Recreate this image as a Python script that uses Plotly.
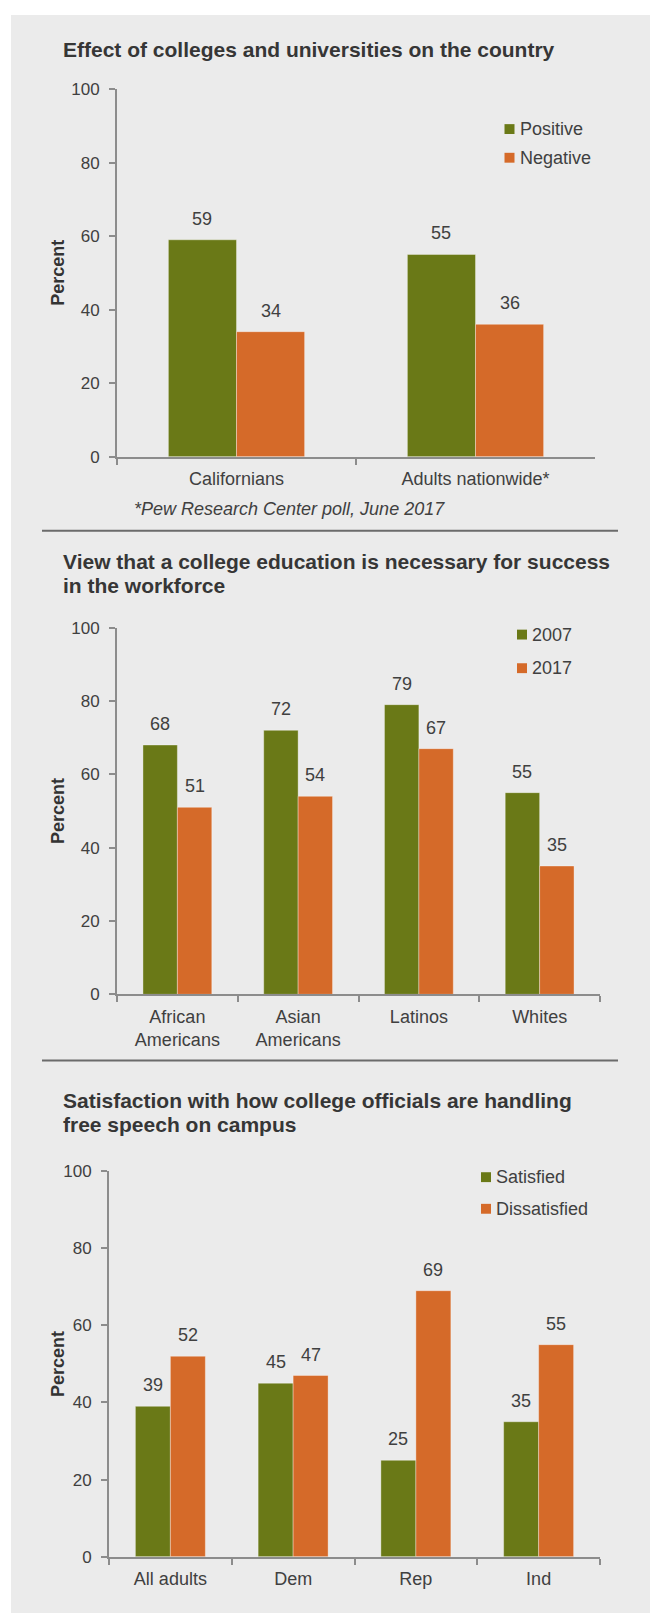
import plotly.graph_objects as go

W, H = 650, 1623

# ---------------- data ----------------
c1_categories = ["Californians", "Adults nationwide*"]
c1_positive = [59, 55]
c1_negative = [34, 36]

c2_categories = ["African<br>Americans", "Asian<br>Americans", "Latinos", "Whites"]
c2_2007 = [68, 72, 79, 55]
c2_2017 = [51, 54, 67, 35]

c3_categories = ["All adults", "Dem", "Rep", "Ind"]
c3_satisfied = [39, 45, 25, 35]
c3_dissatisfied = [52, 47, 69, 55]

y_ticks = [0, 20, 40, 60, 80, 100]

titles = [
    ["Effect of colleges and universities on the country"],
    ["View that a college education is necessary for success", "in the workforce"],
    ["Satisfaction with how college officials are handling", "free speech on campus"],
]
footnote = "*Pew Research Center poll, June 2017"

# ---------------- style ----------------
GREEN = "#6A7917"
ORANGE = "#D56A29"
TEXT = "#404040"
TITLE = "#363636"
AXIS = "#8C8C8C"
FONT = "Liberation Sans, Arial, sans-serif"
BARGAP = 0.43


def px(x):
    return x / W


def py(y):
    return 1 - y / H


panels = [
    dict(cats=c1_categories, series=[("Positive", c1_positive, GREEN), ("Negative", c1_negative, ORANGE)],
         xd=(117, 595), yd=(81, 453), leg=(504.5, [121.5, 150.5]), title_y=[41]),
    dict(cats=c2_categories, series=[("2007", c2_2007, GREEN), ("2017", c2_2017, ORANGE)],
         xd=(117, 600), yd=(626, 997), leg=(517, [633, 667]), title_y=[559, 583]),
    dict(cats=c3_categories, series=[("Satisfied", c3_satisfied, GREEN), ("Dissatisfied", c3_dissatisfied, ORANGE)],
         xd=(109, 600), yd=(1176, 1566), leg=(481, [1182, 1214]), title_y=[1104, 1129]),
]

fig = go.Figure()
annotations = []
shapes = [
    dict(type="rect", xref="paper", yref="paper", x0=px(11), x1=1, y0=0, y1=py(6),
         fillcolor="#EBEBEB", line=dict(width=0), layer="below"),
    dict(type="line", xref="paper", yref="paper", x0=px(42), x1=px(618), y0=py(528), y1=py(528),
         line=dict(color="#6B6B6B", width=2)),
    dict(type="line", xref="paper", yref="paper", x0=px(42), x1=px(618), y0=py(1064), y1=py(1064),
         line=dict(color="#6B6B6B", width=2)),
]
layout = dict()
SQ = 10  # legend swatch size (px)

for i, p in enumerate(panels, start=1):
    sfx = "" if i == 1 else str(i)
    xname, yname = "x" + sfx, "y" + sfx
    for name, vals, col in p["series"]:
        fig.add_trace(go.Bar(
            x=p["cats"], y=vals, name=name, xaxis=xname, yaxis=yname,
            marker=dict(color=col, line=dict(color="rgba(255,255,255,0.35)", width=1)),
            showlegend=False, hoverinfo="skip",
        ))
    # value labels
    cat_px = (p["xd"][1] - p["xd"][0]) / len(p["cats"])
    bw = cat_px * (1 - BARGAP) / 2
    for k, (name, vals, col) in enumerate(p["series"]):
        shift = (k - 0.5) * bw
        for c, v in zip(p["cats"], vals):
            annotations.append(dict(
                x=c, y=v, xref=xname, yref=yname, text=str(v), showarrow=False,
                xshift=shift, yshift=21, yanchor="middle", xanchor="center",
                font=dict(size=18, color=TEXT, family=FONT),
            ))
    layout["xaxis" + sfx] = dict(
        domain=[px(p["xd"][0]), px(p["xd"][1])], anchor=yname, type="category",
        showline=True, linecolor=AXIS, linewidth=2, ticks="outside", tickson="boundaries",
        ticklen=6, tickwidth=2, tickcolor=AXIS, showgrid=False, zeroline=False,
        tickfont=dict(size=18, color=TEXT, family=FONT), ticklabelstandoff=5, fixedrange=True,
    )
    layout["yaxis" + sfx] = dict(
        domain=[py(p["yd"][1]), py(p["yd"][0])], anchor=xname, range=[0, 100],
        tickvals=y_ticks, showline=True, linecolor=AXIS, linewidth=2, ticks="outside",
        ticklen=6, tickwidth=2, tickcolor=AXIS, showgrid=False, zeroline=False,
        tickfont=dict(size=17, color=TEXT, family=FONT), ticklabelstandoff=6, fixedrange=True,
    )
    # legend (swatch + label)
    lx, lys = p["leg"]
    for (name, vals, col), ly in zip(p["series"], lys):
        shapes.append(dict(
            type="rect", xref="paper", yref="paper",
            x0=px(lx), x1=px(lx + SQ), y0=py(ly + SQ / 2), y1=py(ly - SQ / 2),
            fillcolor=col, line=dict(width=0),
        ))
        annotations.append(dict(
            x=px(lx + SQ + 3), y=py(ly), xref="paper", yref="paper", text=name,
            showarrow=False, xanchor="left", yanchor="middle",
            font=dict(size=18, color=TEXT, family=FONT),
        ))
    # y-axis label
    annotations.append(dict(
        x=px(58), y=py((p["yd"][0] + p["yd"][1]) / 2), xref="paper", yref="paper",
        text="<b>Percent</b>", textangle=-90, showarrow=False, xanchor="center", yanchor="middle",
        font=dict(size=18, color="#333333", family=FONT),
    ))
    # titles
    for line, ty in zip(titles[i - 1], p["title_y"]):
        annotations.append(dict(
            x=px(61), y=py(ty), xref="paper", yref="paper", text=f"<b>{line}</b>",
            showarrow=False, xanchor="left", yanchor="middle",
            font=dict(size=21, color=TITLE, family=FONT),
        ))

annotations.append(dict(
    x=px(132), y=py(506), xref="paper", yref="paper", text=f"<i>{footnote}</i>",
    showarrow=False, xanchor="left", yanchor="middle",
    font=dict(size=18, color=TEXT, family=FONT),
))

fig.update_layout(
    width=W, height=H, margin=dict(l=0, r=0, t=0, b=0),
    paper_bgcolor="white", plot_bgcolor="rgba(0,0,0,0)",
    barmode="group", bargap=BARGAP, bargroupgap=0,
    annotations=annotations, shapes=shapes,
    font=dict(family=FONT, color=TEXT), showlegend=False,
    **layout,
)

fig.write_html("out.html", config={"displayModeBar": False})
